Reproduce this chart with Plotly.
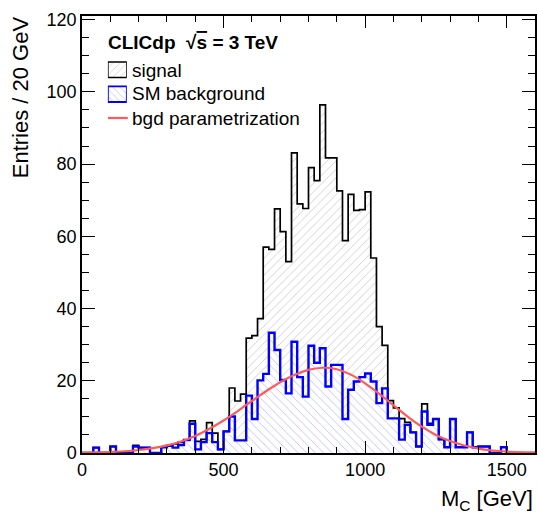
import numpy as np
import plotly.graph_objects as go

# ---------------- data ----------------
bin_width = 20
bin_edges = np.arange(0, 1600 + bin_width, bin_width)          # 0..1600 GeV, 80 bins
bin_centres = bin_edges[:-1] + bin_width / 2

# SM background entries per 20 GeV bin
background = [
    0, 0, 1.5, 0, 0, 1.8, 0, 0, 0, 1.8,
    1.5, 1.5, 0, 0, 1.6, 2.0, 1.5, 2.2, 3.6, 8.1,
    1.0, 3.0, 5.5, 3.0, 1.0, 6.0, 10.1, 3.5, 3.5, 15.9,
    9.4, 20.1, 21.9, 33.3, 28.5, 20.2, 16.5, 30.8, 21.0, 15.6,
    29.7, 25.0, 29.0, 18.4, 24.4, 24.4, 9.4, 17.5, 19.8, 21.0,
    22.0, 19.8, 13.8, 17.9, 9.6, 9.6, 3.7, 7.8, 5.7, 1.8,
    11.5, 7.8, 9.4, 3.8, 1.6, 9.4, 1.6, 1.6, 5.7, 1.6,
    1.8, 1.8, 0, 0, 1.6, 0, 0, 0, 0, 0,
]

# signal entries per bin (stacked on top of the background)
signal = [
    0, 0, 0, 0, 0, 0, 0, 0, 0, 0.3,
    0, 0, 0, 0, 0, 0, 1.0, 0.8, 0, 0.8,
    2.2, 0.8, 2.9, 2.5, 0, 0, 7.9, 10.9, 12.8, 15.9,
    23.1, 17.1, 35.1, 23.1, 39.1, 41.1, 36.5, 52.3, 48.0, 52.1,
    49.3, 50.4, 67.4, 63.3, 57.3, 48.2, 49.4, 54.1, 47.4, 46.4,
    50.3, 34.2, 21.2, 11.9, 4.9, 2.9, 5.8, 0.7, 0, 0,
    2.1, 0.4, 0, 0, 0, 0, 0, 0, 0, 0,
    0, 0, 0, 0, 0, 0, 0, 0, 0, 0,
]

# background parametrization curve, read every 50 GeV
param_x = [0, 50, 100, 150, 200, 250, 300, 350, 400, 450, 500, 550, 600, 650,
           700, 750, 800, 850, 900, 950, 1000, 1050, 1100, 1150, 1200, 1250,
           1300, 1350, 1400, 1450, 1500, 1550, 1600]
param_y = [0.08, 0.15, 0.28, 0.49, 0.83, 1.35, 2.12, 3.2, 4.7, 6.7, 9.0, 11.6,
           14.4, 17.1, 19.6, 21.6, 23.0, 23.6, 23.2, 21.7, 19.3, 16.4, 13.2,
           10.1, 7.3, 5.0, 3.3, 2.07, 1.23, 0.69, 0.37, 0.19, 0.09]

x_ticks = [0, 500, 1000, 1500]
y_ticks = [0, 20, 40, 60, 80, 100, 120]

legend_labels = ["signal", "SM background", "bgd parametrization"]

# ---------------- figure ----------------
background = np.array(background)
total = background + np.array(signal)

FONT = "Liberation Sans, Arial, Helvetica, sans-serif"
GREY_HATCH = dict(shape="/", fgcolor="#8c8c8c", size=6, solidity=0.13, fillmode="overlay")
BLUE_HATCH = dict(shape="\\", fgcolor="#6a6aff", size=6, solidity=0.13, fillmode="overlay")
RED = "#ff5a5a"

fig = go.Figure()

# hatched fills
fig.add_trace(go.Bar(
    x=bin_centres, y=total, width=bin_width,
    marker=dict(color="white", line=dict(width=0), pattern=GREY_HATCH),
    showlegend=False, hoverinfo="skip"))
fig.add_trace(go.Bar(
    x=bin_centres, y=background, width=bin_width,
    marker=dict(color="white", line=dict(width=0), pattern=BLUE_HATCH),
    showlegend=False, hoverinfo="skip"))

# outlines as step lines
fig.add_trace(go.Scatter(
    x=bin_edges, y=np.append(total, total[-1]), mode="lines",
    line=dict(color="black", width=1.7, shape="hv"),
    showlegend=False, hoverinfo="skip"))
fig.add_trace(go.Scatter(
    x=bin_edges, y=np.append(background, background[-1]), mode="lines",
    line=dict(color="#0000ff", width=2.4, shape="hv"),
    showlegend=False, hoverinfo="skip"))

# parametrization
fig.add_trace(go.Scatter(
    x=param_x, y=param_y, mode="lines",
    line=dict(color=RED, width=2.2, shape="spline"),
    showlegend=False, hoverinfo="skip"))

L, R, T, B = 82, 1, 16, 68
W, H = 538, 521
pw, ph = W - L - R, H - T - B

def px_to_paper(px, py):
    return (px - L) / pw, (H - B - py) / ph

# legend boxes drawn on a small helper axis (pixel-like units)
lx0, _ = px_to_paper(108, 0)
lx1, _ = px_to_paper(127, 0)
_, ly0 = px_to_paper(0, 103)
_, ly1 = px_to_paper(0, 61)
fig.add_trace(go.Bar(
    x=[0.5], y=[16], base=[26], width=[1], xaxis="x2", yaxis="y2",
    marker=dict(color="white", line=dict(width=0),
                pattern=dict(GREY_HATCH, size=5)),
    showlegend=False, hoverinfo="skip"))
fig.add_trace(go.Bar(
    x=[0.5], y=[16], base=[1], width=[1], xaxis="x2", yaxis="y2",
    marker=dict(color="white", line=dict(width=0),
                pattern=dict(BLUE_HATCH, size=5)),
    showlegend=False, hoverinfo="skip"))

axis_common = dict(
    showline=True, linecolor="black", linewidth=1.5, mirror="allticks",
    ticks="inside", tickcolor="black", tickwidth=1.2,
    showgrid=False, zeroline=False,
    tickfont=dict(family=FONT, size=18, color="black"),
)

fig.update_layout(
    width=W, height=H,
    margin=dict(l=L, r=R, t=T, b=B),
    paper_bgcolor="white", plot_bgcolor="white",
    barmode="overlay", bargap=0,
    showlegend=False,
    xaxis=dict(range=[0, 1600], tickvals=x_ticks, ticklen=12,
               minor=dict(dtick=100, ticks="inside", ticklen=6,
                          tickcolor="black", tickwidth=1.2, showgrid=False),
               **axis_common),
    yaxis=dict(range=[0, 121], tickvals=y_ticks, ticklen=13,
               minor=dict(dtick=5, ticks="inside", ticklen=7,
                          tickcolor="black", tickwidth=1.2, showgrid=False),
               **axis_common),
    xaxis2=dict(domain=[lx0, lx1], range=[0, 1], visible=False, anchor="y2",
                fixedrange=True),
    yaxis2=dict(domain=[ly0, ly1], range=[0, 43], visible=False, anchor="x2",
                fixedrange=True),
)

# legend box outlines
fig.add_shape(type="rect", xref="x2", yref="y2", x0=0, x1=1, y0=26, y1=42,
              line=dict(color="black", width=1.5), fillcolor="rgba(0,0,0,0)",
              layer="above")
fig.add_shape(type="rect", xref="x2", yref="y2", x0=0, x1=1, y0=1, y1=17,
              line=dict(color="#0000ff", width=1.8), fillcolor="rgba(0,0,0,0)",
              layer="above")

# red legend line
rx0, ry = px_to_paper(108, 118)
rx1, _ = px_to_paper(128, 118)
fig.add_shape(type="line", xref="paper", yref="paper", x0=rx0, x1=rx1, y0=ry, y1=ry,
              line=dict(color=RED, width=2.2))

annotations = []
hx, hy = px_to_paper(106, 42)
annotations.append(dict(
    text="<b>CLICdp  √<span style='text-decoration:overline'>s</span> = 3 TeV</b>",
    x=hx, y=hy, xanchor="left", yanchor="middle",
    font=dict(family=FONT, size=19, color="black")))
for label, py in zip(legend_labels, [70, 94, 118]):
    ax, ay = px_to_paper(130, py)
    annotations.append(dict(text=label, x=ax, y=ay, xanchor="left", yanchor="middle",
                            font=dict(family=FONT, size=19, color="black")))
tx, ty = px_to_paper(537, 500)
annotations.append(dict(text="M<sub>C</sub> [GeV]", x=tx, y=ty,
                        xanchor="right", yanchor="middle",
                        font=dict(family=FONT, size=22, color="black")))
yx, yy = px_to_paper(20, 14)
annotations.append(dict(text="Entries / 20 GeV", x=yx, y=yy,
                        xanchor="center", yanchor="top", textangle=-90,
                        font=dict(family=FONT, size=22, color="black")))
for a in annotations:
    a.update(xref="paper", yref="paper", showarrow=False)
fig.update_layout(annotations=annotations)

fig.write_html("out.html")
